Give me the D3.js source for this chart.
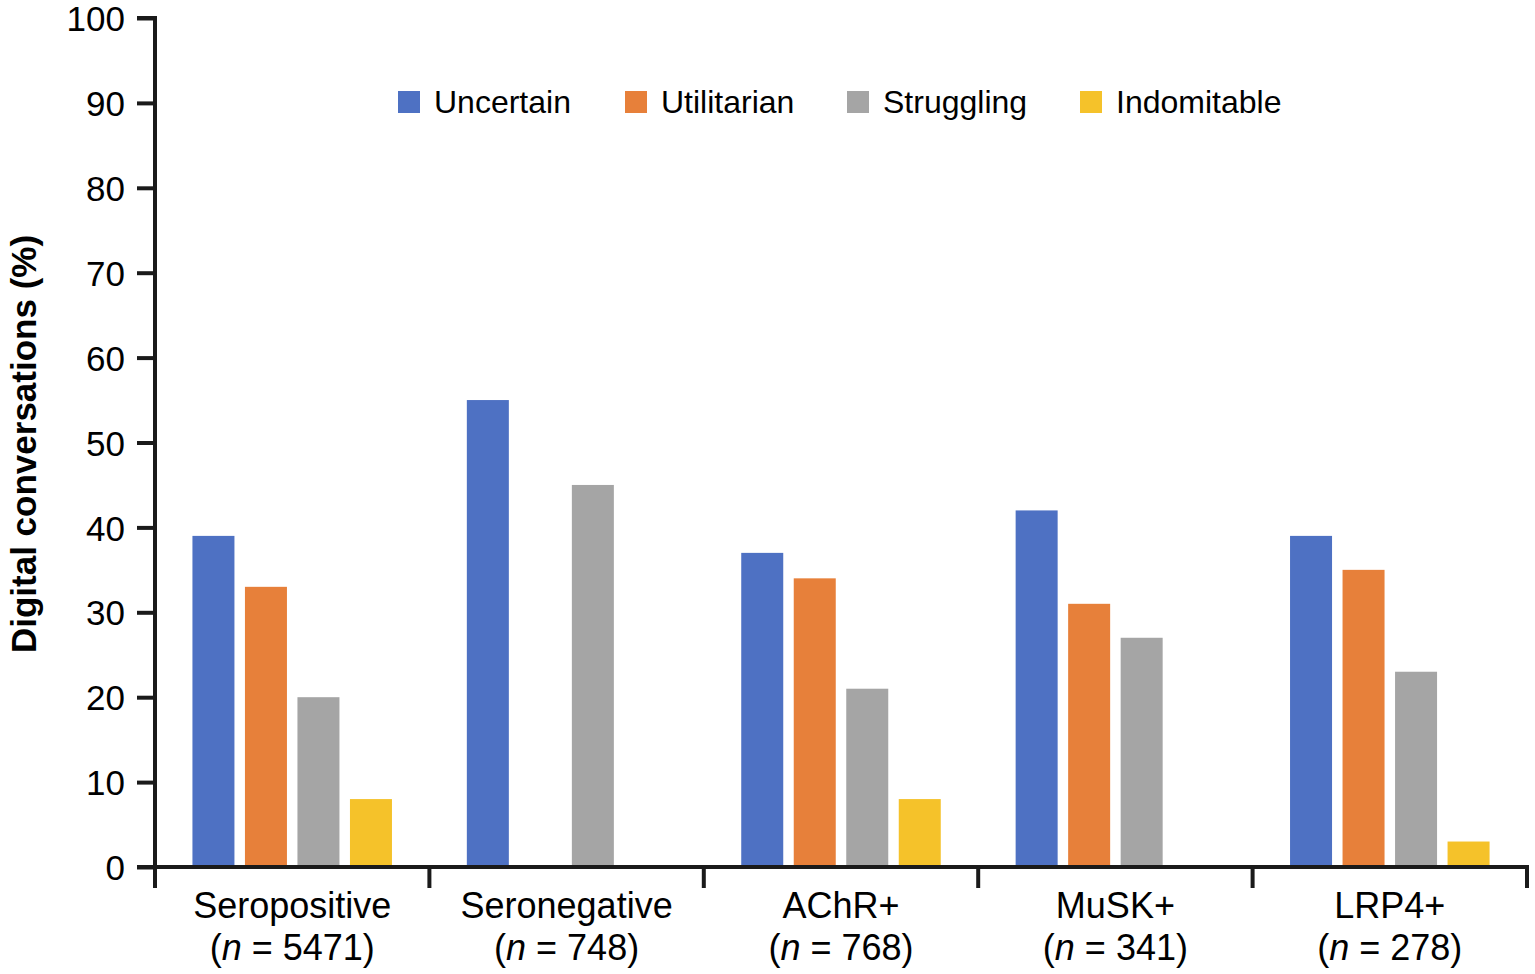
<!DOCTYPE html>
<html><head><meta charset="utf-8">
<script src="https://cdn.jsdelivr.net/npm/d3@7"></script>
<style>body{margin:0;background:#fff}svg{display:block;font-family:"Liberation Sans",Arial,sans-serif}</style>
</head><body><svg id="c" width="1535" height="974"></svg>
<script>
const categories = ["Seropositive","Seronegative","AChR+","MuSK+","LRP4+"];
const categoryN = ["5471","748","768","341","278"];
const seriesNames = ["Uncertain","Utilitarian","Struggling","Indomitable"];
const uncertain   = [39, 55, 37, 42, 39];
const utilitarian = [33, null, 34, 31, 35];
const struggling  = [20, 45, 21, 27, 23];
const indomitable = [8, null, 8, null, 3];
const yTicks = [0,10,20,30,40,50,60,70,80,90,100];
const colors = ["#4E71C3","#E7803A","#A5A5A5","#F5C22A"];
const seriesValues = [uncertain, utilitarian, struggling, indomitable];

const svg = d3.select("#c");
const m = {left:155, right:8, top:18, bottom:107};
const W = 1535, H = 974;
const x = d3.scaleBand().domain(categories).range([m.left, W-m.right]).padding(0);
const xi = d3.scaleBand().domain(seriesNames).range([0, x.bandwidth()]).paddingInner(0.2).paddingOuter(0.713);
const y = d3.scaleLinear().domain([0,100]).range([H-m.bottom, m.top]);

// bars
categories.forEach((c, ci) => {
  seriesNames.forEach((s, si) => {
    const v = seriesValues[si][ci];
    if (v == null) return;
    svg.append("rect")
      .attr("x", x(c) + xi(s))
      .attr("y", y(v))
      .attr("width", xi.bandwidth())
      .attr("height", y(0) - y(v))
      .attr("fill", colors[si]);
  });
});

// y axis
const ya = svg.append("g").attr("transform", `translate(${m.left},0)`)
  .call(d3.axisLeft(y).tickValues(yTicks).tickSize(18).tickPadding(12));
ya.select(".domain").attr("stroke","#1a1a1a").attr("stroke-width",4).attr("d", `M-18,${y(100)}H0V${y(0)}`);
ya.selectAll(".tick line").attr("stroke","#1a1a1a").attr("stroke-width",4);
ya.selectAll(".tick text").attr("font-size",35).attr("fill","#000").attr("font-family","Liberation Sans, Arial, sans-serif").attr("dy","0.36em");

// x axis
const xg = svg.append("g");
xg.append("line").attr("x1", m.left-18).attr("x2", W-m.right+2).attr("y1", y(0)).attr("y2", y(0))
  .attr("stroke","#1a1a1a").attr("stroke-width",4);
const bounds = categories.map(c => x(c)).concat([x(categories[categories.length-1]) + x.bandwidth()]);
bounds.forEach((b) => {
  xg.append("line").attr("x1", b).attr("x2", b).attr("y1", y(0)).attr("y2", y(0)+21)
    .attr("stroke","#1a1a1a").attr("stroke-width",4);
});
categories.forEach((c, ci) => {
  const cx = x(c) + x.bandwidth()/2;
  xg.append("text").attr("text-anchor","middle").attr("font-size",36).attr("fill","#000")
    .attr("x", cx).attr("y", 918).text(c);
  const t2 = xg.append("text").attr("text-anchor","middle").attr("font-size",36).attr("fill","#000").attr("x", cx).attr("y", 960);
  t2.append("tspan").text("(");
  t2.append("tspan").attr("font-style","italic").text("n");
  t2.append("tspan").text(" = " + categoryN[ci] + ")");
});

// y title
svg.append("text").attr("transform", `translate(36,444) rotate(-90)`)
  .attr("text-anchor","middle").attr("font-size",35).attr("font-weight","bold").attr("fill","#000")
  .text("Digital conversations (%)");

// legend
const legendX = [398, 625, 847, 1080];
seriesNames.forEach((s, i) => {
  const g = svg.append("g").attr("transform", `translate(${legendX[i]},91)`);
  g.append("rect").attr("width",22).attr("height",22).attr("fill",colors[i]);
  g.append("text").attr("x",36).attr("y",22).attr("font-size",32).attr("fill","#000").text(s);
});
</script></body></html>
